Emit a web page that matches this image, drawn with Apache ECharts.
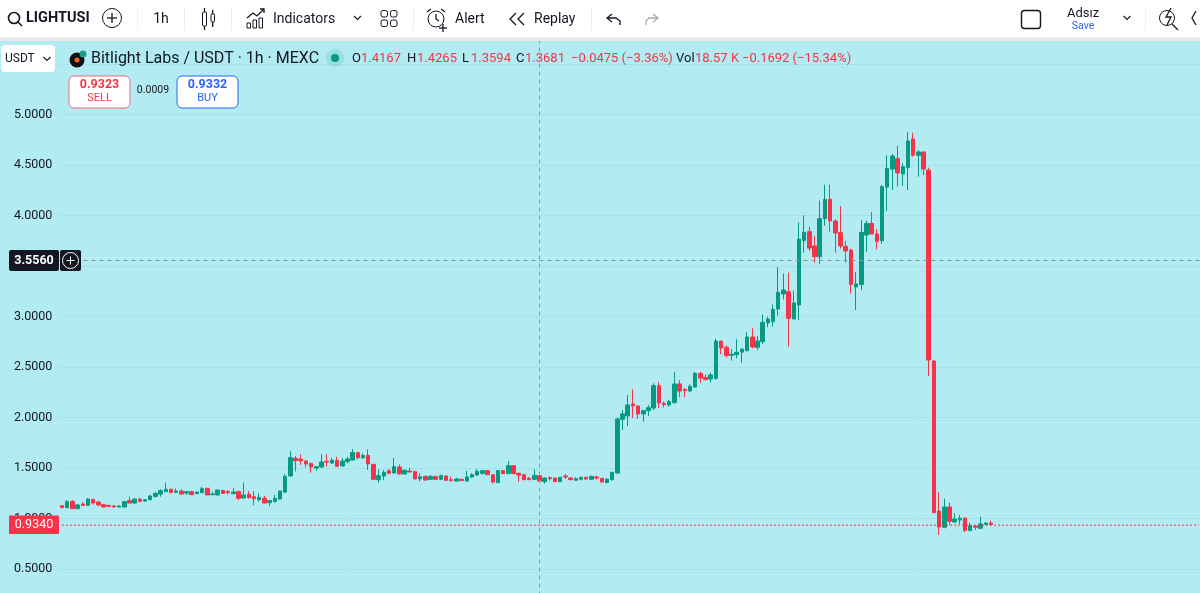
<!DOCTYPE html>
<html>
<head>
<meta charset="utf-8">
<title>Bitlight Labs / USDT</title>
<script src="https://cdn.jsdelivr.net/npm/echarts@6/dist/echarts.min.js"></script>
<style>
    html, body { margin: 0; padding: 0; background: #b2ebf2; }
    #main { width: 1200px; height: 593px; }
</style>
</head>
<body>
<div id="main"></div>
<script>
// candles, hourly, left to right.
var opens = [
    1.127,1.107,1.170,1.097,1.144,1.130,1.190,1.163,1.137,1.130,
    1.124,1.114,1.114,1.177,1.153,1.190,1.173,1.186,1.219,1.242,
    1.266,1.289,1.259,1.272,1.252,1.266,1.246,1.256,1.299,1.236,
    1.233,1.279,1.266,1.246,1.266,1.203,1.239,1.216,1.186,1.200,
    1.157,1.170,1.193,1.262,1.421,1.596,1.589,1.569,1.546,1.500,
    1.510,1.566,1.549,1.576,1.520,1.563,1.579,1.652,1.602,1.625,
    1.536,1.384,1.421,1.474,1.450,1.510,1.441,1.470,1.464,1.391,
    1.417,1.388,1.417,1.388,1.421,1.384,1.371,1.388,1.371,1.411,
    1.431,1.447,1.474,1.434,1.355,1.474,1.444,1.523,1.447,1.434,
    1.398,1.388,1.424,1.365,1.404,1.401,1.365,1.421,1.401,1.378,
    1.388,1.408,1.388,1.411,1.398,1.355,1.384,1.450,1.982,2.015,
    2.134,2.114,2.035,2.068,2.094,2.315,2.140,2.124,2.147,2.332,
    2.279,2.262,2.302,2.437,2.398,2.381,2.388,2.757,2.695,2.615,
    2.622,2.648,2.662,2.797,2.695,2.751,2.936,2.949,3.074,3.223,
    3.246,2.975,3.114,3.751,3.840,3.698,3.592,3.969,4.160,3.946,
    3.830,3.695,3.658,3.292,3.318,3.807,3.922,3.817,3.751,4.282,
    4.460,4.563,4.411,4.474,4.757,4.596,4.629,4.450,2.559,1.074,
    0.913,1.114,0.965,0.985,1.005,0.880,0.926,0.903,0.942,0.955
];
var closes = [
    1.107,1.167,1.097,1.134,1.130,1.193,1.153,1.134,1.114,1.120,
    1.114,1.124,1.167,1.153,1.193,1.170,1.186,1.223,1.249,1.275,
    1.289,1.259,1.272,1.242,1.266,1.236,1.262,1.295,1.233,1.242,
    1.282,1.249,1.256,1.262,1.200,1.233,1.206,1.196,1.209,1.153,
    1.177,1.200,1.272,1.417,1.602,1.573,1.573,1.540,1.510,1.513,
    1.559,1.559,1.576,1.516,1.569,1.589,1.652,1.602,1.625,1.540,
    1.388,1.424,1.457,1.447,1.513,1.441,1.477,1.460,1.391,1.414,
    1.381,1.417,1.388,1.424,1.378,1.375,1.391,1.375,1.411,1.434,
    1.467,1.474,1.434,1.361,1.474,1.444,1.523,1.444,1.431,1.384,
    1.384,1.427,1.371,1.401,1.394,1.365,1.408,1.411,1.384,1.394,
    1.408,1.391,1.417,1.401,1.361,1.391,1.457,1.985,2.035,2.124,
    2.114,2.035,2.068,2.097,2.315,2.144,2.127,2.157,2.332,2.262,
    2.266,2.309,2.437,2.391,2.375,2.421,2.757,2.688,2.615,2.625,
    2.645,2.678,2.797,2.698,2.757,2.942,2.975,3.071,3.239,3.262,
    2.982,3.134,3.767,3.833,3.678,3.592,3.969,4.160,3.946,3.827,
    3.698,3.649,3.318,3.322,3.833,3.922,3.817,3.744,4.285,4.467,
    4.589,4.421,4.483,4.738,4.596,4.629,4.460,2.569,1.058,0.916,
    1.114,0.972,0.995,1.002,0.883,0.929,0.913,0.946,0.955,0.942
];
var lows = [
    1.107,1.104,1.094,1.094,1.124,1.127,1.137,1.120,1.111,1.117,
    1.111,1.111,1.111,1.153,1.147,1.163,1.170,1.183,1.206,1.216,
    1.262,1.246,1.252,1.239,1.233,1.233,1.242,1.249,1.233,1.233,
    1.229,1.246,1.236,1.239,1.183,1.196,1.196,1.130,1.167,1.150,
    1.124,1.157,1.186,1.252,1.414,1.467,1.530,1.507,1.454,1.474,
    1.503,1.513,1.543,1.513,1.516,1.546,1.573,1.586,1.589,1.480,
    1.381,1.355,1.381,1.437,1.447,1.437,1.434,1.457,1.388,1.368,
    1.375,1.381,1.381,1.381,1.375,1.365,1.368,1.371,1.368,1.401,
    1.424,1.434,1.431,1.348,1.351,1.441,1.441,1.441,1.361,1.381,
    1.381,1.381,1.365,1.345,1.375,1.361,1.361,1.391,1.381,1.375,
    1.378,1.384,1.381,1.384,1.358,1.351,1.378,1.444,1.876,1.916,
    1.995,1.988,1.959,2.015,2.074,2.094,2.101,2.107,2.140,2.203,
    2.203,2.256,2.295,2.342,2.368,2.348,2.371,2.625,2.592,2.563,
    2.586,2.543,2.655,2.685,2.668,2.728,2.893,2.899,3.008,3.170,
    2.701,2.975,2.965,3.632,3.649,3.530,3.520,3.899,3.840,3.632,
    3.672,3.533,3.229,3.064,3.262,3.642,3.817,3.665,3.718,4.045,
    4.252,4.285,4.292,4.252,4.583,4.384,4.401,2.411,1.058,0.837,
    0.903,0.936,0.962,0.946,0.866,0.876,0.886,0.899,0.936,0.929
];
var highs = [
    1.127,1.183,1.180,1.144,1.160,1.200,1.193,1.170,1.144,1.134,
    1.134,1.130,1.173,1.216,1.200,1.206,1.193,1.236,1.259,1.289,
    1.355,1.295,1.295,1.289,1.272,1.275,1.266,1.312,1.302,1.266,
    1.285,1.282,1.282,1.299,1.275,1.355,1.272,1.272,1.249,1.223,
    1.177,1.233,1.275,1.441,1.665,1.619,1.635,1.579,1.546,1.520,
    1.635,1.639,1.602,1.612,1.599,1.612,1.688,1.658,1.645,1.685,
    1.536,1.487,1.480,1.487,1.599,1.536,1.487,1.503,1.474,1.447,
    1.427,1.431,1.421,1.434,1.427,1.414,1.404,1.391,1.474,1.447,
    1.490,1.483,1.477,1.437,1.480,1.480,1.569,1.530,1.457,1.437,
    1.411,1.487,1.431,1.408,1.417,1.401,1.411,1.441,1.408,1.408,
    1.414,1.408,1.424,1.424,1.401,1.394,1.460,2.002,2.074,2.223,
    2.279,2.117,2.074,2.124,2.338,2.351,2.157,2.173,2.454,2.371,
    2.289,2.328,2.450,2.450,2.427,2.444,2.780,2.757,2.714,2.675,
    2.774,2.678,2.843,2.883,2.807,3.021,2.998,3.120,3.490,3.424,
    3.434,3.256,3.929,4.002,3.889,3.797,4.147,4.305,4.305,3.962,
    4.094,3.748,3.672,3.441,3.955,3.949,4.035,3.866,4.302,4.596,
    4.609,4.691,4.516,4.827,4.820,4.648,4.635,4.474,2.569,1.259,
    1.196,1.157,1.051,1.035,1.008,0.959,0.932,1.018,0.965,0.979
];
var emptySlots = 40; // free space on the right of the last candle
var crossBar = 92;
var crossPrice = 3.556;
var lastPrice = 0.934;
var hiddenTicks = [0, 5.5, 6];

var FONT = 'Roboto, "Noto Sans", sans-serif';
var UP = '#089981';
var DOWN = '#f7334a';
var INK = '#131722';

var categories = [];
var candles = [];
var lastPriceLine = [];
for (var i = 0; i < opens.length + emptySlots; i++) {
    categories.push(String(i));
    lastPriceLine.push(lastPrice);
    if (i < opens.length) {
        candles.push([opens[i], closes[i], lows[i], highs[i]]);
    }
}

// small helpers for the toolbar and legend, all of it sits on top of the plot
function txt(x, y, text, size, color, align, weight) {
    return {
        type: 'text', z: 100, silent: true,
        style: {
            x: x, y: y, text: text, fill: color || INK,
            align: align || 'left', verticalAlign: 'middle',
            textAlign: align || 'left', textVerticalAlign: 'middle',
            font: (weight || 'normal') + ' ' + size + 'px ' + FONT
        }
    };
}
function box(x, y, w, h, fill, stroke, r, lw) {
    return {
        type: 'rect', z: 99, silent: true,
        shape: { x: x, y: y, width: w, height: h, r: r || 0 },
        style: { fill: fill || 'none', stroke: stroke || 'none', lineWidth: lw || 1 }
    };
}
function ring(x, y, r, stroke, fill, lw) {
    return {
        type: 'circle', z: 100, silent: true,
        shape: { cx: x, cy: y, r: r },
        style: { fill: fill || 'none', stroke: stroke || 'none', lineWidth: lw || 1 }
    };
}
function pen(points, color, lw) {
    return {
        type: 'polyline', z: 100, silent: true,
        shape: { points: points },
        style: { fill: 'none', stroke: color || INK, lineWidth: lw || 1.3 }
    };
}
function chevron(x, y) {
    return pen([[x - 3.5, y - 2], [x, y + 1.5], [x + 3.5, y - 2]], INK, 1.1);
}

var chrome = [
    box(0, 0, 1200, 37.5, '#ffffff'),
    box(0, 37.5, 1200, 3.5, '#e9e9e9'),
    // search + symbol
    ring(14, 18, 5.5, INK, null, 1.6),
    pen([[18, 22], [22, 26]], INK, 1.6),
    txt(26, 18.5, 'LIGHTUSI', 14.5, INK, 'left', 'bold'),
    ring(112, 18, 9.5, INK),
    pen([[107, 18], [117, 18]]),
    pen([[112, 13], [112, 23]]),
    box(137.5, 7, 0.6, 24, '#e0e3eb'),
    txt(161, 19, '1h', 14, INK, 'center'),
    box(184, 7, 0.6, 24, '#e0e3eb'),
    // candle type
    box(202.5, 12, 4, 14, 'none', INK, 1),
    pen([[204.5, 8], [204.5, 12]]),
    pen([[204.5, 26], [204.5, 30]]),
    box(211, 14, 3.5, 8, 'none', INK, 1),
    pen([[212.7, 10], [212.7, 14]]),
    pen([[212.7, 22], [212.7, 27]]),
    box(231, 7, 0.6, 24, '#e0e3eb'),
    // indicators
    pen([[247, 18], [253, 13], [257, 16], [264, 9]]),
    pen([[260, 9], [264, 9], [264, 13]]),
    box(247, 23, 3.5, 5, 'none', INK),
    box(253, 20, 3.5, 8, 'none', INK),
    box(259, 18, 3.5, 10, 'none', INK),
    txt(273, 19, 'Indicators', 14, INK),
    chevron(357.5, 18),
    box(381, 10.5, 6.5, 6.5, 'none', INK, 2),
    box(390.5, 10.5, 6.5, 6.5, 'none', INK, 2),
    box(381, 20, 6.5, 6.5, 'none', INK, 2),
    box(390.5, 20, 6.5, 6.5, 'none', INK, 2),
    box(413, 7, 0.6, 24, '#e0e3eb'),
    // alert clock
    ring(436, 19, 8, INK),
    pen([[436, 14], [436, 19], [439, 21]]),
    pen([[427, 12], [431, 9]]),
    pen([[441, 9], [445, 12]]),
    pen([[443, 24], [443, 32]]),
    pen([[439, 28], [447, 28]]),
    txt(455, 19, 'Alert', 14, INK),
    // replay
    pen([[516, 13], [510, 19], [516, 25]]),
    pen([[524, 13], [518, 19], [524, 25]]),
    txt(534, 19, 'Replay', 14, INK),
    box(591, 7, 0.6, 24, '#e0e3eb'),
    pen([[612, 14], [607, 18], [612, 22]]),
    pen([[607, 18], [616, 18], [620, 21], [620, 25]]),
    pen([[653, 14], [658, 18], [653, 22]], '#a9acb5'),
    pen([[658, 18], [649, 18], [646, 21], [646, 25]], '#a9acb5'),
    // right side
    box(1021.5, 10.5, 19, 18, 'none', INK, 3, 1.4),
    txt(1083, 14, 'Adsız', 13, INK, 'center'),
    txt(1083, 26, 'Save', 10.5, '#2962ff', 'center'),
    chevron(1127, 18),
    box(1145, 7, 0.6, 24, '#e0e3eb'),
    ring(1167, 18, 7.5, INK),
    pen([[1172, 24], [1178, 30]]),
    pen([[1171, 8], [1166, 17], [1171, 17], [1167, 25]]),
    pen([[1196, 11], [1192, 18], [1196, 25]]),

    // legend row
    box(1, 45, 54, 27, '#ffffff', null, 4),
    txt(5, 59, 'USDT', 12, INK),
    chevron(47, 59),
    ring(77, 60, 7.5, null, '#111111'),
    ring(77, 60, 2.5, null, '#e8622a'),
    ring(83, 54, 3.5, null, '#1e9c8c'),
    txt(91, 58.5, 'Bitlight Labs / USDT · 1h · MEXC', 16, INK),
    ring(335, 58, 9, null, 'rgba(8,153,129,0.14)'),
    ring(335, 58, 4, null, UP),
    txt(352, 58.5, 'O', 13, INK),
    txt(361, 58.5, '1.4167', 13, '#f23645'),
    txt(407, 58.5, 'H', 13, INK),
    txt(417, 58.5, '1.4265', 13, '#f23645'),
    txt(462, 58.5, 'L', 13, INK),
    txt(471, 58.5, '1.3594', 13, '#f23645'),
    txt(516, 58.5, 'C', 13, INK),
    txt(525, 58.5, '1.3681', 13, '#f23645'),
    txt(571, 58.5, '−0.0475 (−3.36%)', 13, '#f23645'),
    txt(676, 58.5, 'Vol', 13, INK),
    txt(695, 58.5, '18.57 K', 13, '#f23645'),
    txt(742, 58.5, '−0.1692 (−15.34%)', 13, '#f23645'),

    // sell / buy buttons
    box(69, 76, 61, 32, '#ffffff', '#ef6b78', 5),
    txt(99.5, 85, '0.9323', 12.5, '#f23645', 'center', 'bold'),
    txt(99.5, 98.5, 'SELL', 11, '#f23645', 'center'),
    txt(153, 90, '0.0009', 10.5, INK, 'center'),
    box(177, 76, 61, 32, '#ffffff', '#2962ff', 5),
    txt(207.5, 85, '0.9332', 12.5, '#2962ff', 'center', 'bold'),
    txt(207.5, 98.5, 'BUY', 11, '#2962ff', 'center'),

    // price tags on the axis
    box(9, 250, 50, 21, INK, null, 2),
    box(60, 250, 21, 21, INK, null, 2),
    txt(34, 260.5, '3.5560', 12.5, '#ffffff', 'center', 'bold'),
    ring(70.5, 260.5, 8, '#ffffff'),
    pen([[66.5, 260.5], [74.5, 260.5]], '#ffffff', 1),
    pen([[70.5, 256.5], [70.5, 264.5]], '#ffffff', 1),
    box(9, 515.5, 50, 18.5, '#f7334a', null, 1),
    txt(34, 525, '0.9340', 12.5, '#ffffff', 'center')
];

var chart = echarts.init(document.getElementById('main'));
chart.setOption({
    animation: false,
    backgroundColor: '#b2ebf2',
    // 5.0 sits at y=114.5 and 0.5 at y=569, the rest runs off under the toolbar and the page edge
    grid: { left: 59.4, top: 13.5, width: 1141.8, height: 606, outerBoundsMode: 'none' },
    xAxis: {
        type: 'category',
        data: categories,
        show: false
    },
    yAxis: {
        type: 'value',
        min: 0,
        max: 6,
        interval: 0.5,
        axisLine: { show: false },
        axisTick: { show: false },
        axisLabel: {
            color: INK,
            fontFamily: FONT,
            fontSize: 12.5,
            margin: 7,
            formatter: function (v) {
                return hiddenTicks.indexOf(v) >= 0 ? '' : v.toFixed(4);
            }
        },
        splitLine: { lineStyle: { color: '#a3e2e9', width: 1 } }
    },
    graphic: { elements: chrome },
    series: [{
        type: 'candlestick',
        data: candles,
        barWidth: 4,
        itemStyle: {
            color: UP,
            color0: DOWN,
            borderColor: UP,
            borderColor0: DOWN,
            borderWidth: 1
        },
        // crosshair
        markLine: {
            silent: true,
            symbol: 'none',
            label: { show: false },
            lineStyle: { color: '#8a9aa2', type: [4, 4], width: 1 },
            data: [{ yAxis: crossPrice }, { xAxis: String(crossBar) }]
        }
    }, {
        // last price line
        type: 'line',
        data: lastPriceLine,
        showSymbol: false,
        silent: true,
        lineStyle: { color: '#ff2a40', type: [2, 2], width: 1 }
    }]
});
</script>
</body>
</html>
